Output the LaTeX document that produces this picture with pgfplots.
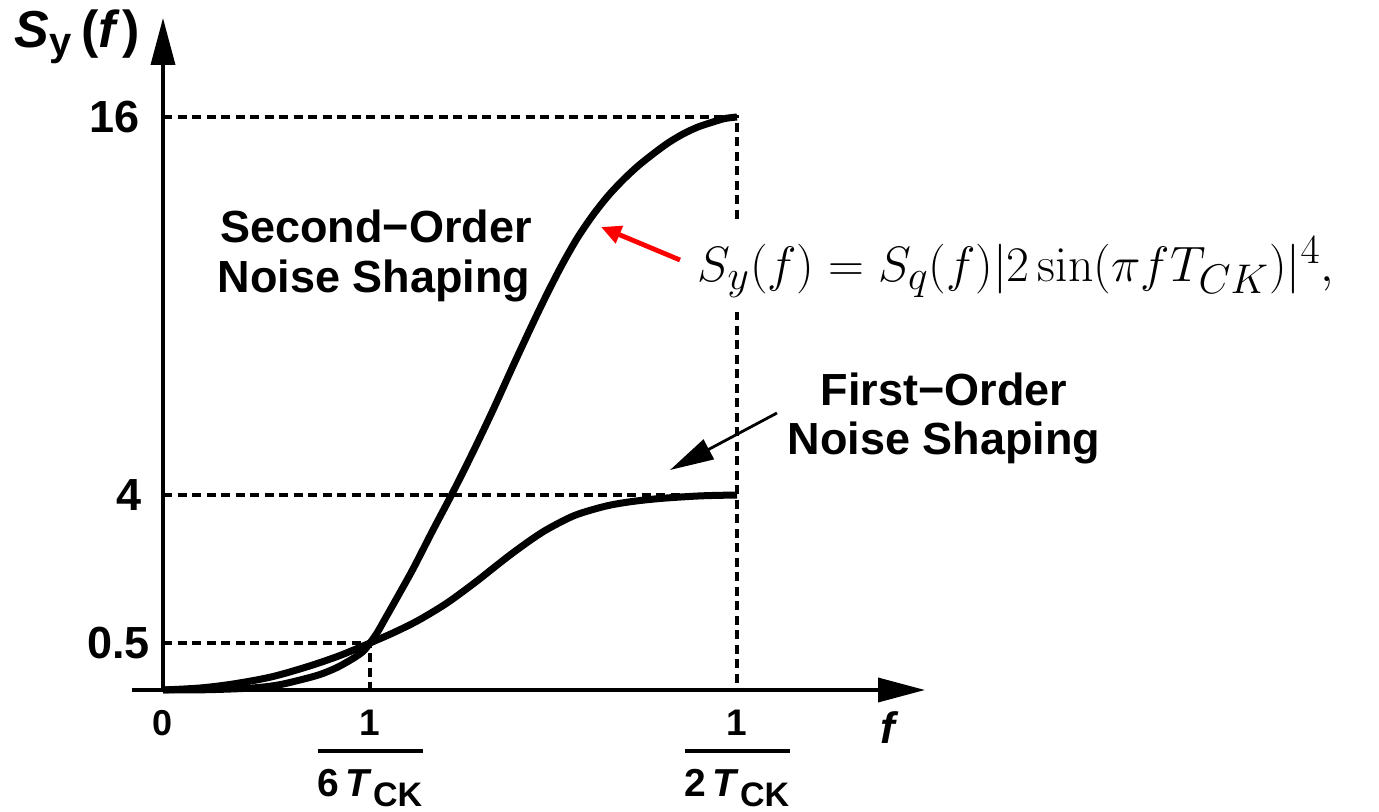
\documentclass[border=0pt]{standalone}
\usepackage[no-math]{fontspec}
\usepackage{pgfplots}
\pgfplotsset{compat=1.18}
\usetikzlibrary{arrows.meta}
\newfontfamily\arial{Liberation Sans}

% tick label of the form 1 / (n T_CK)
\newcommand{\invT}[1]{\vbox{\offinterlineskip
  \hbox to 52.5pt{\hss\fontsize{18.5pt}{18.5pt}\selectfont 1\hss}%
  \kern 6.5pt
  \hrule height 2pt width 52.5pt
  \kern 8pt
  \hbox to 52.5pt{\hss\fontsize{19.5pt}{19.5pt}\selectfont #1\kern 3pt\textit{T}\kern 0.5pt\lower 5pt\hbox{\fontsize{17pt}{17pt}\selectfont CK}\hss}}}

\begin{document}
\begin{tikzpicture}
\path[use as bounding box] (-81.5pt,-61pt) rectangle (608pt,345pt);
\begin{axis}[
  at={(0,0)}, anchor=south west,
  x=0.5pt, y=0.5pt,
  xmin=0, xmax=762, ymin=0, ymax=672,
  axis lines*=left,
  axis line style={draw=none},
  clip=false,
  xtick={0,207,574},
  xticklabels={{\fontsize{18pt}{18pt}\selectfont 0}, \invT{6}, \invT{2}},
  ytick={47,195,573},
  yticklabels={0.5, 4\kern4pt, 16\kern5pt},
  major tick length=0pt,
  xticklabel style={font=\arial\bfseries, anchor=north, inner sep=0pt, yshift=-10pt},
  yticklabel style={font=\arial\bfseries\fontsize{22.5pt}{22.5pt}\selectfont, anchor=east, inner sep=0pt, xshift=-6.5pt},
]

% guide lines at the marked levels
\addplot[black, line width=2.4pt, dash pattern=on 4.5pt off 2.75pt, no markers] coordinates {(0,573) (574,573) (574,0)};
\addplot[black, line width=2.4pt, dash pattern=on 4.5pt off 2.75pt, no markers] coordinates {(0,195) (574,195)};
\addplot[black, line width=2.4pt, dash pattern=on 4.5pt off 2.75pt, no markers] coordinates {(0,47) (207,47) (207,0)};

% formula
\node[fill=white, inner sep=7pt, anchor=base, font=\fontsize{29pt}{34pt}\selectfont] at (axis cs:853,408)
  {$S_y(f) = S_q(f)|2\sin(\pi f T_{CK})|^4,$};

% axes
\draw[line width=1.8pt, -{Triangle[length=23.5pt, width=12pt]}] (axis cs:-31,0) -- (axis cs:762,0);
\draw[line width=1.8pt, -{Triangle[length=23.5pt, width=12pt]}] (axis cs:0,0) -- (axis cs:0,672);

% second-order noise shaping
\addplot[black, line width=3.5pt, smooth, no markers] coordinates {
  (0,0) (45,0.3) (89,2) (115,5) (137,10) (157,15.5) (174,22.5) (190,31.5) (200,38.5)
  (207,47) (214,57) (222,71) (235,94) (250,121) (270,160) (290,198) (310,238)
  (330,280) (350,324) (370,367) (385,398) (400,427) (415,453) (430,475) (445,494)
  (460,510) (475,524) (490,536) (505,547) (520,556) (535,563) (550,568) (562,571.5)
  (574,573)};

% first-order noise shaping
\addplot[black, line width=3.5pt, smooth, no markers] coordinates {
  (0,0) (37,2) (70,6) (108,13) (145,23.5) (177,34.5) (207,47) (232,58) (256,70)
  (284,87) (312,107.5) (330,121.7) (349,136.5) (370,151.6) (386,161.7) (412,174.7)
  (442,183.7) (467,188.2) (497,191.5) (537,194.1) (574,195)};

% curve labels
\node[anchor=base, font=\arial\bfseries\fontsize{22.5pt}{26pt}\selectfont] at (axis cs:213,447) {Second−Order};
\node[anchor=base, font=\arial\bfseries\fontsize{22.5pt}{26pt}\selectfont] at (axis cs:211,397) {Noise Shaping};
\node[anchor=base, font=\arial\bfseries\fontsize{22.5pt}{26pt}\selectfont] at (axis cs:781,284) {First−Order};
\node[anchor=base, font=\arial\bfseries\fontsize{22.5pt}{26pt}\selectfont] at (axis cs:781,235) {Noise Shaping};

% pointers
\draw[red, line width=2.4pt, -{Triangle[length=10pt, width=9pt]}] (axis cs:517,430) -- (axis cs:438,463);
\draw[black, line width=1.4pt, -{Triangle[length=22pt, width=11pt]}] (axis cs:614,277) -- (axis cs:507,220);

% axis names
\node[anchor=base west, inner sep=0pt, font=\arial\bfseries\fontsize{26pt}{26pt}\selectfont] at (axis cs:-149,642)
  {\textit{S}\lower4pt\hbox{\fontsize{20pt}{20pt}\selectfont y}\kern5pt(\textit{f}\kern1pt)};
\node[font=\arial\bfseries\fontsize{22pt}{22pt}\selectfont] at (axis cs:727,-38) {\textit{f}};
\end{axis}
\end{tikzpicture}
\end{document}
